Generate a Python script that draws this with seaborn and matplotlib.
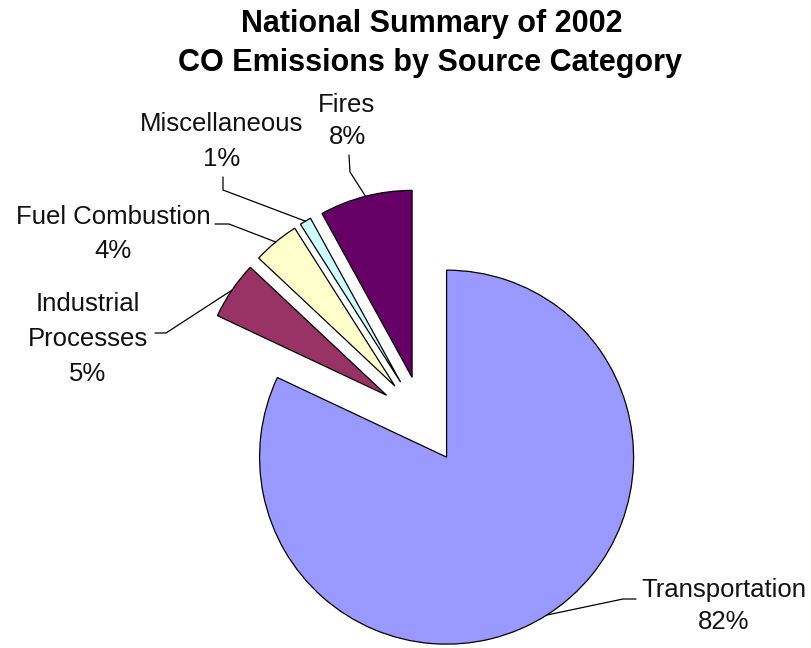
import numpy as np
import matplotlib
matplotlib.use("Agg")
import matplotlib.pyplot as plt
import seaborn as sns

# ---------------- data ----------------
categories = ["Transportation", "Industrial\nProcesses", "Fuel Combustion", "Miscellaneous", "Fires"]
shares = [82, 5, 4, 1, 8]
colors = ["#9999FF", "#993366", "#FFFFCC", "#CCFFFF", "#660066"]
title_lines = ["National Summary of 2002", "CO Emissions by Source Category"]

# ---------------- layout (pixel space, image y measured from top) ----------------
W, H = 811, 648
pie_center = (423, 420)
pie_radius = 187
explode_px = 44
# label anchor: (center x, first baseline y, line step)
label_pos = [(724, 597, 32), (88, 311, 35), (113, 224, 34), (222, 131, 35.5), (347, 112.5, 32)]
# leader line: (start near text, elbow)
leader_pts = [((636, 599), (623, 599)),
              ((155, 333), (166, 333)),
              ((215, 224), (229, 224)),
              ((223, 177), (223, 190)),
              ((349, 155), (350, 172))]

sns.set_theme(style="white")
plt.rcParams["font.family"] = ["Liberation Sans", "DejaVu Sans"]

fig = plt.figure(figsize=(W / 100, H / 100), dpi=100)
ax = fig.add_axes([0, 0, 1, 1])

def Y(y):
    return H - y

wedges, _ = ax.pie(
    shares,
    colors=colors,
    explode=[explode_px] * len(shares),
    startangle=90,
    counterclock=False,
    radius=pie_radius,
    center=(pie_center[0], Y(pie_center[1])),
    wedgeprops=dict(edgecolor="black", linewidth=0.9),
    frame=False,
)
ax.set_xlim(0, W)
ax.set_ylim(0, H)
ax.set_aspect("auto")
ax.axis("off")

for i, (w, name, val) in enumerate(zip(wedges, categories, shares)):
    mid = np.deg2rad(0.5 * (w.theta1 + w.theta2))
    cx, cy = w.center
    ex, ey = cx + w.r * np.cos(mid), cy + w.r * np.sin(mid)
    (sx, sy), (bx, by) = leader_pts[i]
    ax.plot([sx, bx, ex], [Y(sy), Y(by), ey], color="black", lw=0.9, solid_joinstyle="miter")
    lx, ly, step = label_pos[i]
    lines = name.split("\n") + [f"{val}%"]
    for k, line in enumerate(lines):
        ax.text(lx, Y(ly + k * step), line, ha="center", va="baseline",
                fontsize=18.5, color="#111111")

for k, (t, base, cx) in enumerate(zip(title_lines, [32.3, 70.7], [432, 430.5])):
    ax.text(cx, Y(base), t, ha="center", va="baseline", fontsize=22,
            fontweight="bold", color="black")

fig.savefig("out.png", dpi=100, facecolor="white")
